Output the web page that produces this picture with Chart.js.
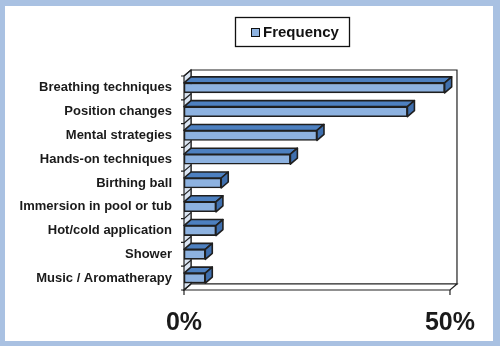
<!DOCTYPE html>
<html>
<head>
<meta charset="utf-8">
<script src="https://cdn.jsdelivr.net/npm/chart.js@4.4.0/dist/chart.umd.min.js"></script>
<style>
  html, body { margin: 0; padding: 0; background: #fff; }
  #frame { box-sizing: border-box; width: 500px; height: 346px; border-style: solid; border-color: #a9c1e2; border-width: 6px 7px 5px 5px; background: #fff; }
  #wrap { position: relative; width: 488px; height: 335px; }
</style>
</head>
<body>
<div id="frame"><div id="wrap"><canvas id="methodsChart"></canvas></div></div>
<script>
// Pain relief methods used during labour
const categories = [
    'Breathing techniques',
    'Position changes',
    'Mental strategies',
    'Hands-on techniques',
    'Birthing ball',
    'Immersion in pool or tub',
    'Hot/cold application',
    'Shower',
    'Music / Aromatherapy'
];
const frequency = [49, 42, 25, 20, 7, 6, 6, 4, 4];
const xTicks = [0, 50];

const DX = 7, DY = 6;   // depth of the 3D effect

// back wall, side wall and floor
const box3d = {
    id: 'box3d',
    beforeDatasetsDraw(chart) {
        const { ctx, chartArea: a } = chart;
        ctx.save();
        ctx.lineWidth = 1.2;
        ctx.strokeStyle = '#222';
        // back wall
        ctx.fillStyle = '#fff';
        ctx.beginPath();
        ctx.rect(a.left + DX, a.top - DY, a.right - a.left, a.bottom - a.top);
        ctx.fill();
        ctx.stroke();
        // left side wall
        ctx.fillStyle = '#dbe5f2';
        ctx.beginPath();
        ctx.moveTo(a.left, a.top);
        ctx.lineTo(a.left + DX, a.top - DY);
        ctx.lineTo(a.left + DX, a.bottom - DY);
        ctx.lineTo(a.left, a.bottom);
        ctx.closePath();
        ctx.fill();
        ctx.stroke();
        // floor
        ctx.fillStyle = '#fff';
        ctx.beginPath();
        ctx.moveTo(a.left, a.bottom);
        ctx.lineTo(a.left + DX, a.bottom - DY);
        ctx.lineTo(a.right + DX, a.bottom - DY);
        ctx.lineTo(a.right, a.bottom);
        ctx.closePath();
        ctx.fill();
        ctx.stroke();
        // category ticks on the wall
        const y = chart.scales.y;
        for (let i = 0; i <= categories.length; i++) {
            const yy = y.top + (y.bottom - y.top) * i / categories.length;
            ctx.beginPath();
            ctx.moveTo(a.left - 3, yy);
            ctx.lineTo(a.left, yy);
            ctx.lineTo(a.left + DX, yy - DY);
            ctx.stroke();
        }
        // value ticks
        const x = chart.scales.x;
        xTicks.forEach(v => {
            const xx = x.getPixelForValue(v);
            ctx.beginPath();
            ctx.moveTo(xx, a.bottom);
            ctx.lineTo(xx, a.bottom + 5);
            ctx.stroke();
        });
        ctx.restore();
    },
    afterDatasetsDraw(chart) {
        const { ctx } = chart;
        const meta = chart.getDatasetMeta(0);
        ctx.save();
        ctx.lineWidth = 1.6;
        ctx.lineJoin = 'round';
        ctx.strokeStyle = '#1f1f1f';
        meta.data.forEach(bar => {
            const p = bar.getProps(['x', 'y', 'base', 'height'], true);
            const t = p.y - p.height / 2, b = p.y + p.height / 2;
            ctx.fillStyle = '#4d80c0';
            ctx.beginPath();
            ctx.moveTo(p.base, t);
            ctx.lineTo(p.base + DX, t - DY);
            ctx.lineTo(p.x + DX, t - DY);
            ctx.lineTo(p.x, t);
            ctx.closePath();
            ctx.fill();
            ctx.stroke();
            ctx.fillStyle = '#3f6fae';
            ctx.beginPath();
            ctx.moveTo(p.x, t);
            ctx.lineTo(p.x + DX, t - DY);
            ctx.lineTo(p.x + DX, b - DY);
            ctx.lineTo(p.x, b);
            ctx.closePath();
            ctx.fill();
            ctx.stroke();
        });
        ctx.restore();
    },
    afterDraw(chart) {
        // boxed legend
        const { ctx } = chart;
        const ds = chart.data.datasets[0];
        ctx.save();
        ctx.strokeStyle = '#111';
        ctx.lineWidth = 1.3;
        ctx.strokeRect(230.5, 11.5, 114, 29);
        ctx.fillStyle = ds.backgroundColor;
        ctx.fillRect(246, 22, 8, 8);
        ctx.lineWidth = 1;
        ctx.strokeRect(246.5, 22.5, 8, 8);
        ctx.fillStyle = '#111';
        ctx.font = 'bold 15px Arial, "Liberation Sans"';
        ctx.textBaseline = 'middle';
        ctx.fillText(ds.label, 258, 27);
        ctx.restore();
    }
};

const ctx = document.getElementById('methodsChart').getContext('2d');
const methodsChart = new Chart(ctx, {
    type: 'bar',
    data: {
        labels: categories,
        datasets: [{
            label: 'Frequency',
            data: frequency,
            backgroundColor: '#8db2e0',
            borderColor: '#1f1f1f',
            borderWidth: 1.6,
            borderSkipped: false,
            barThickness: 10
        }]
    },
    options: {
        indexAxis: 'y',
        responsive: true,
        maintainAspectRatio: false,
        animation: false,
        layout: { padding: { top: 70, right: 42, left: 0, bottom: 0 } },
        plugins: {
            legend: { display: false },
            tooltip: { enabled: false }
        },
        scales: {
            x: {
                min: 0,
                max: 50,
                afterFit: s => { s.height = 51; },
                afterBuildTicks: s => { s.ticks = xTicks.map(v => ({ value: v })); },
                grid: { display: false, drawTicks: false },
                border: { display: false },
                ticks: {
                    padding: 18,
                    color: '#1a1a1a',
                    font: { family: 'Arial, "Liberation Sans"', size: 25, weight: 'bold' },
                    callback: v => v + '%'
                }
            },
            y: {
                afterFit: s => { s.width = 179; },
                grid: { display: false, drawTicks: false },
                border: { display: false },
                ticks: {
                    padding: 12,
                    color: '#1a1a1a',
                    font: { family: 'Arial, "Liberation Sans"', size: 13, weight: 'bold' }
                }
            }
        }
    },
    plugins: [box3d]
});
</script>
</body>
</html>
